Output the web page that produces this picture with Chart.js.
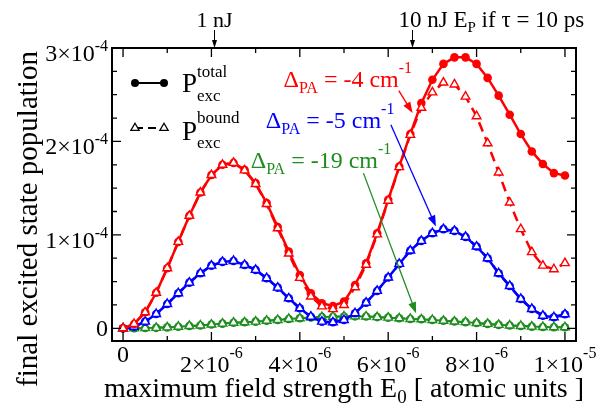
<!DOCTYPE html>
<html>
<head>
<meta charset="utf-8">
<script src="https://cdn.jsdelivr.net/npm/chart.js@4.4.0/dist/chart.umd.min.js"></script>
<style>
  html, body { margin: 0; padding: 0; background: #fff; }
</style>
</head>
<body>
<canvas id="chart" width="597" height="411"></canvas>
<script>
// field strength E0 in units of 1e-6 a.u.
const fieldStrength = [0, 0.25, 0.5, 0.75, 1, 1.25, 1.5, 1.75, 2, 2.25, 2.5, 2.75, 3, 3.25, 3.5, 3.75,
  4, 4.25, 4.5, 4.75, 5, 5.25, 5.5, 5.75, 6, 6.25, 6.5, 6.75, 7, 7.25, 7.5, 7.75,
  8, 8.25, 8.5, 8.75, 9, 9.25, 9.5, 9.75, 10];

// populations in units of 1e-4
const redTotal = [0, 0.046, 0.171, 0.38, 0.643, 0.925, 1.204, 1.453, 1.64, 1.75, 1.77, 1.697, 1.554, 1.34,
  1.083, 0.821, 0.571, 0.375, 0.268, 0.239, 0.285, 0.464, 0.696, 1.018, 1.375, 1.732, 2.079, 2.41, 2.66,
  2.83, 2.90, 2.90, 2.83, 2.68, 2.49, 2.286, 2.079, 1.893, 1.758, 1.661, 1.636];
const redBound = [0, 0.046, 0.171, 0.38, 0.643, 0.925, 1.204, 1.453, 1.64, 1.75, 1.77, 1.69, 1.545, 1.33,
  1.07, 0.80, 0.54, 0.34, 0.235, 0.205, 0.25, 0.44, 0.68, 1.005, 1.365, 1.725, 2.07, 2.36, 2.525,
  2.63, 2.61, 2.48, 2.27, 1.98, 1.668, 1.346, 1.061, 0.815, 0.671, 0.632, 0.697];
// blue and green: total and bound curves lie on top of each other
const blueTotal = [0, 0.017, 0.071, 0.153, 0.26, 0.375, 0.489, 0.589, 0.671, 0.711, 0.721, 0.678, 0.625, 0.536,
  0.435, 0.321, 0.214, 0.124, 0.071, 0.064, 0.089, 0.161, 0.275, 0.40, 0.543, 0.689, 0.832, 0.936, 1.018,
  1.061, 1.043, 0.978, 0.875, 0.75, 0.589, 0.453, 0.314, 0.207, 0.135, 0.118, 0.15];
const blueBound = blueTotal;
const greenTotal = [0, 0, 0.003, 0.005, 0.01, 0.017, 0.025, 0.03, 0.04, 0.05, 0.06, 0.064, 0.071, 0.081,
  0.089, 0.10, 0.107, 0.115, 0.12, 0.124, 0.126, 0.128, 0.126, 0.12, 0.114, 0.107, 0.1, 0.096, 0.089,
  0.08, 0.072, 0.066, 0.056, 0.047, 0.037, 0.03, 0.025, 0.018, 0.014, 0.011, 0.011];
const greenBound = greenTotal;

// tick labels: [mantissa, exponent]
const xTicks = [0, 2, 4, 6, 8, 10];
const xTickLabels = [['0', ''], ['2×10', '-6'], ['4×10', '-6'], ['6×10', '-6'], ['8×10', '-6'], ['1×10', '-5']];
const yTicks = [0, 1, 2, 3];
const yTickLabels = [['0', ''], ['1×10', '-4'], ['2×10', '-4'], ['3×10', '-4']];

const RED = '#ff0000', BLUE = '#0000ff', GREEN = '#1f8c1f';
const FONT = '"Liberation Serif", "Times New Roman", serif';

// annotation labels with arrows (data coordinates)
const notes = [
  { value: '-4', color: RED, at: [3.63, 2.586], from: [6.24, 2.543], to: [6.553, 2.304] },
  { value: '-5', color: BLUE, at: [3.23, 2.147], from: [6.06, 2.179], to: [7.08, 1.089] },
  { value: '-19', color: GREEN, at: [2.89, 1.718], from: [5.44, 1.661], to: [6.63, 0.161] }
];
// pulse energy marks on the top axis
const energyMarks = [2.07, 6.55];

function pts(arr) {
  return fieldStrength.map((x, i) => ({ x: x, y: arr[i] }));
}

function drawRich(ctx, parts, x, y, align) {
  let w = 0;
  parts.forEach(p => { ctx.font = p[1] + 'px ' + FONT; w += ctx.measureText(p[0]).width; });
  let cx = align === 'center' ? x - w / 2 : (align === 'right' ? x - w : x);
  ctx.textAlign = 'left';
  ctx.textBaseline = 'alphabetic';
  parts.forEach(p => {
    ctx.font = p[1] + 'px ' + FONT;
    ctx.fillText(p[0], cx, y + (p[2] || 0));
    cx += ctx.measureText(p[0]).width;
  });
}

function arrow(ctx, x1, y1, x2, y2, len, half, lw) {
  const a = Math.atan2(y2 - y1, x2 - x1);
  ctx.lineWidth = lw;
  ctx.beginPath();
  ctx.moveTo(x1, y1);
  ctx.lineTo(x2 - Math.cos(a) * len * 0.8, y2 - Math.sin(a) * len * 0.8);
  ctx.stroke();
  ctx.beginPath();
  ctx.moveTo(x2, y2);
  ctx.lineTo(x2 - Math.cos(a) * len - Math.sin(a) * half, y2 - Math.sin(a) * len + Math.cos(a) * half);
  ctx.lineTo(x2 - Math.cos(a) * len + Math.sin(a) * half, y2 - Math.sin(a) * len - Math.cos(a) * half);
  ctx.closePath();
  ctx.fill();
}

function marker(ctx, kind, x, y) {
  ctx.beginPath();
  if (kind === 'circle') {
    ctx.arc(x, y, 4, 0, Math.PI * 2);
    ctx.fill();
  } else {
    const r = 4.8;
    ctx.moveTo(x, y - r);
    ctx.lineTo(x + r * 0.866, y + r * 0.5);
    ctx.lineTo(x - r * 0.866, y + r * 0.5);
    ctx.closePath();
    ctx.fillStyle = '#fff';
    ctx.fill();
    ctx.lineWidth = 1.3;
    ctx.stroke();
    ctx.fillStyle = '#000';
  }
}

const decorations = {
  id: 'decorations',
  afterDraw(chart) {
    const ctx = chart.ctx;
    const a = chart.chartArea;
    const xs = chart.scales.x, ys = chart.scales.y;
    ctx.save();
    ctx.strokeStyle = '#000';
    ctx.fillStyle = '#000';

    // frame
    ctx.lineWidth = 2;
    ctx.strokeRect(a.left, a.top, a.right - a.left, a.bottom - a.top);

    // inward ticks on all four sides
    ctx.lineWidth = 1.3;
    ctx.beginPath();
    for (let v = 0; v <= 10; v += 1) {
      const px = xs.getPixelForValue(v);
      const len = v % 2 === 0 ? 9 : 5;
      ctx.moveTo(px, a.bottom); ctx.lineTo(px, a.bottom - len);
      ctx.moveTo(px, a.top); ctx.lineTo(px, a.top + len);
    }
    for (let v = 0; v <= 3; v += 0.25) {
      const py = ys.getPixelForValue(v);
      const len = Number.isInteger(v) ? 9 : 5;
      ctx.moveTo(a.left, py); ctx.lineTo(a.left + len, py);
      ctx.moveTo(a.right, py); ctx.lineTo(a.right - len, py);
    }
    ctx.stroke();

    // tick labels
    xTicks.forEach((v, i) => {
      const px = xs.getPixelForValue(v);
      const [m, e] = xTickLabels[i];
      if (e) drawRich(ctx, [[m, 24, 0], [e, 16, -14]], px, a.bottom + 31, 'center');
      else drawRich(ctx, [[m, 24, 0]], px, a.bottom + 21, 'center');
    });
    yTicks.forEach((v, i) => {
      const py = ys.getPixelForValue(v);
      const [m, e] = yTickLabels[i];
      if (e) drawRich(ctx, [[m, 24, 0], [e, 16, -10]], a.left - 4, py + 13, 'right');
      else drawRich(ctx, [[m, 24, 0]], a.left - 4, py + 8, 'right');
    });

    // axis titles
    drawRich(ctx, [['maximum field strength E', 28, 0], ['0', 19, 6], [' [ atomic units ]', 28, 0]],
      344, 397, 'center');
    ctx.save();
    ctx.translate(37, 219);
    ctx.rotate(-Math.PI / 2);
    drawRich(ctx, [['final excited state population', 29, 0]], 0, 0, 'center');
    ctx.restore();

    // top energy marks
    const e1 = xs.getPixelForValue(energyMarks[0]);
    const e2 = xs.getPixelForValue(energyMarks[1]);
    drawRich(ctx, [['1 nJ', 22, 0]], e1, 27, 'center');
    drawRich(ctx, [['10 nJ E', 23, 0], ['P', 15, 5], [' if τ = 10 ps', 23, 0]], e2 - 14, 27, 'left');
    arrow(ctx, e1, 30, e1, a.top, 8, 2.5, 1);
    arrow(ctx, e2, 30, e2, a.top, 8, 2.5, 1);

    // annotations
    notes.forEach(n => {
      ctx.fillStyle = n.color;
      ctx.strokeStyle = n.color;
      drawRich(ctx, [['Δ', 24, 0], ['PA', 16, 6], [' = ' + n.value + ' cm', 24, 0], ['-1', 16, -14]],
        xs.getPixelForValue(n.at[0]), ys.getPixelForValue(n.at[1]), 'left');
      arrow(ctx, xs.getPixelForValue(n.from[0]), ys.getPixelForValue(n.from[1]),
        xs.getPixelForValue(n.to[0]), ys.getPixelForValue(n.to[1]), 11, 4, 1.3);
    });

    // legend
    ctx.fillStyle = '#000';
    ctx.strokeStyle = '#000';
    ctx.lineWidth = 2;
    ctx.beginPath(); ctx.moveTo(135, 83); ctx.lineTo(164, 83); ctx.stroke();
    marker(ctx, 'circle', 135, 83);
    marker(ctx, 'circle', 164, 83);
    ctx.lineWidth = 2;
    ctx.setLineDash([8, 5]);
    ctx.beginPath(); ctx.moveTo(135, 128); ctx.lineTo(164, 128); ctx.stroke();
    ctx.setLineDash([]);
    marker(ctx, 'tri', 135, 128);
    marker(ctx, 'tri', 164, 128);
    drawRich(ctx, [['P', 27, 0]], 182, 92, 'left');
    drawRich(ctx, [['total', 17, 0]], 197, 77, 'left');
    drawRich(ctx, [['exc', 17, 0]], 197, 101, 'left');
    drawRich(ctx, [['P', 27, 0]], 182, 140, 'left');
    drawRich(ctx, [['bound', 17, 0]], 197, 123, 'left');
    drawRich(ctx, [['exc', 17, 0]], 197, 148, 'left');

    ctx.restore();
  }
};

function totalSet(arr, color, lw) {
  return {
    data: pts(arr), borderColor: color, backgroundColor: color, borderWidth: lw,
    pointStyle: 'circle', pointRadius: 4.3, pointBorderWidth: 0, tension: 0
  };
}
function boundSet(arr, color, lw) {
  return {
    data: pts(arr), borderColor: color, backgroundColor: '#fff', borderWidth: lw, borderDash: [10, 6],
    pointStyle: 'triangle', pointRadius: 5, pointBorderWidth: 1.4, tension: 0
  };
}

new Chart(document.getElementById('chart'), {
  type: 'line',
  data: {
    datasets: [
      boundSet(redBound, RED, 2.5),
      totalSet(redTotal, RED, 2.5),
      boundSet(blueBound, BLUE, 2.5),
      totalSet(blueTotal, BLUE, 2.5),
      boundSet(greenBound, GREEN, 2),
      totalSet(greenTotal, GREEN, 2)
    ]
  },
  options: {
    responsive: false,
    animation: false,
    devicePixelRatio: 1,
    layout: { padding: { left: 112, right: 21, top: 48, bottom: 70 } },
    plugins: { legend: { display: false }, tooltip: { enabled: false } },
    scales: {
      x: { type: 'linear', min: -0.25, max: 10.25, display: false },
      y: { type: 'linear', min: -0.136, max: 3.0, display: false }
    }
  },
  plugins: [decorations]
});
</script>
</body>
</html>
